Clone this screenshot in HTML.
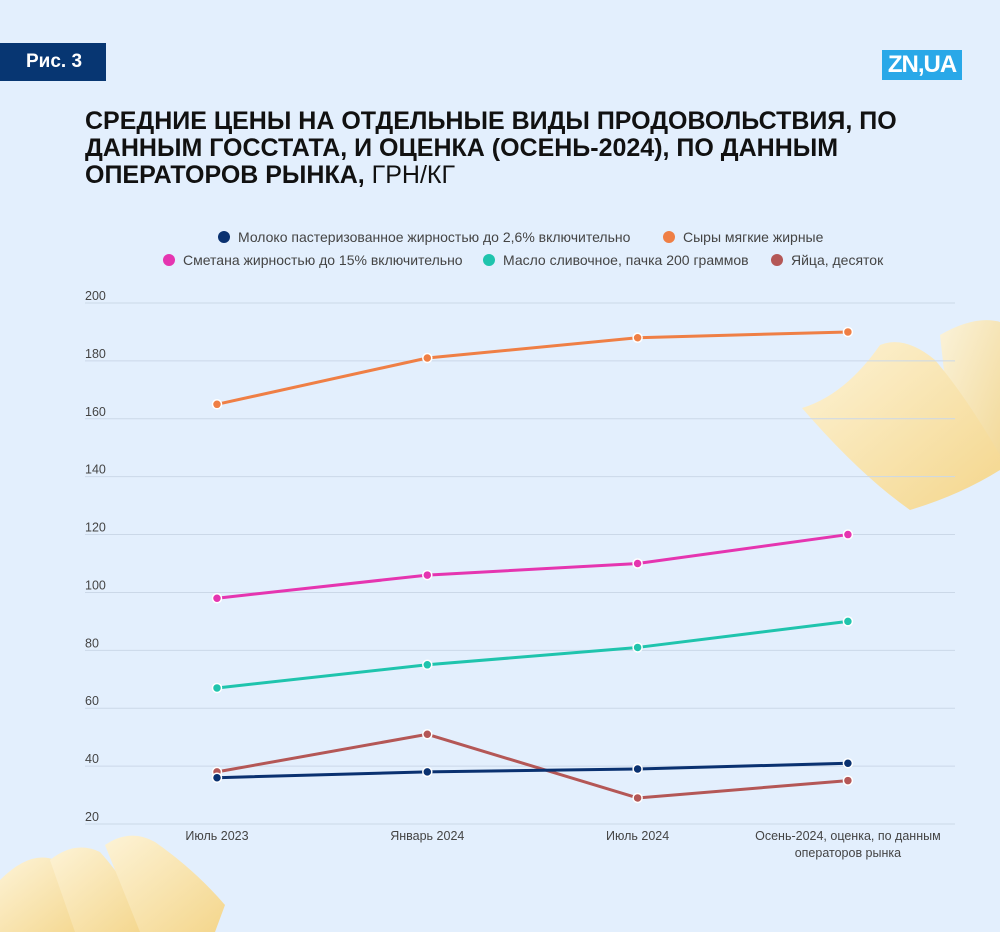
<!DOCTYPE html>
<html><head><meta charset="utf-8"><style>
body{margin:0;width:1000px;height:932px;overflow:hidden;background:#e3effd;font-family:"Liberation Sans",sans-serif;position:relative}
.badge{position:absolute;left:0;top:43px;width:106px;height:38px;background:#073672;color:#fff;font-weight:bold;font-size:19px;line-height:38px;text-align:left;padding-left:26px;box-sizing:border-box}
.logo{position:absolute;left:882px;top:50px;width:80px;height:30px;background:#29a8e8;color:#fff;font-weight:bold;font-size:24px;line-height:30px;text-align:center;letter-spacing:-1px}
h1{position:absolute;left:85px;top:108px;margin:0;font-size:25px;line-height:27px;font-weight:bold;color:#111;width:900px;white-space:nowrap}
h1 span{font-weight:normal}
.legend{position:absolute;font-size:14px;color:#444;white-space:nowrap}
.dot{display:inline-block;width:12px;height:12px;border-radius:50%;vertical-align:-1px;margin-right:8px}
</style></head><body>
<div class="badge">Рис. 3</div>
<div class="logo">ZN,UA</div>
<h1>СРЕДНИЕ ЦЕНЫ НА ОТДЕЛЬНЫЕ ВИДЫ ПРОДОВОЛЬСТВИЯ, ПО<br>ДАННЫМ ГОССТАТА, И ОЦЕНКА (ОСЕНЬ-2024), ПО ДАННЫМ<br>ОПЕРАТОРОВ РЫНКА, <span>ГРН/КГ</span></h1>
<div class="legend" style="left:218px;top:229px"><span class="dot" style="background:#0a3170"></span>Молоко пастеризованное жирностью до 2,6% включительно</div>
<div class="legend" style="left:663px;top:229px"><span class="dot" style="background:#ef7f45"></span>Сыры мягкие жирные</div>
<div class="legend" style="left:163px;top:252px"><span class="dot" style="background:#e535b0"></span>Сметана жирностью до 15% включительно</div>
<div class="legend" style="left:483px;top:252px"><span class="dot" style="background:#1fc4ad"></span>Масло сливочное, пачка 200 граммов</div>
<div class="legend" style="left:771px;top:252px"><span class="dot" style="background:#b45756"></span>Яйца, десяток</div>
<svg id="chart" width="1000" height="932" style="position:absolute;left:0;top:0">
<defs><linearGradient id="ch" x1="0" y1="0" x2="1" y2="1"><stop offset="0" stop-color="#fdf3d6"/><stop offset="1" stop-color="#f4d68c"/></linearGradient></defs>
<g>
<path d="M940 335 Q975 315 1000 322 L1000 470 Q975 480 955 470 Z" fill="url(#ch)" opacity="0.9"/>
<path d="M802 408 Q845 395 880 345 Q905 335 935 360 Q965 395 1000 455 L1000 470 Q960 495 910 510 Q860 475 802 408 Z" fill="url(#ch)"/>
</g>
<g>
<path d="M0 880 Q30 850 55 860 Q80 890 95 932 L0 932 Z" fill="url(#ch)"/>
<path d="M50 860 Q75 840 100 852 Q130 885 150 932 L75 932 Z" fill="url(#ch)"/>
<path d="M105 845 Q130 828 155 842 Q195 870 225 905 L215 932 L140 932 Z" fill="url(#ch)"/>
</g>
</svg>
<script>
const categories=["Июль 2023","Январь 2024","Июль 2024","Осень-2024, оценка, по данным|операторов рынка"];
const yTicks=[20,40,60,80,100,120,140,160,180,200];
const milk=[36,38,39,41];
const cheese=[165,181,188,190];
const sourCream=[98,106,110,120];
const butter=[67,75,81,90];
const eggs=[38,51,29,35];
const series=[["milk",milk,"#0a3170"],["cheese",cheese,"#ef7f45"],["sour-cream",sourCream,"#e535b0"],["butter",butter,"#1fc4ad"],["eggs",eggs,"#b45756"]];
const svg=document.getElementById('chart');const NS="http://www.w3.org/2000/svg";
const y=v=>303+(200-v)*(521/180);
const x=i=>217+i*210.3;
function mk(t,a){const e=document.createElementNS(NS,t);for(const k in a)e.setAttribute(k,a[k]);svg.appendChild(e);return e;}
yTicks.forEach(t=>{
 const l=mk('line',{x1:85,x2:955,y1:y(t),y2:y(t),stroke:'#cbd8e8','stroke-width':1});
 
 
 const tx=mk('text',{x:85,y:y(t)-3,'font-size':12.5,fill:'#444','font-family':'Liberation Sans'});tx.textContent=t;
 
 
});
categories.forEach((c,i)=>{
 c.split('|').forEach((s,j)=>{
  const tx=mk('text',{x:x(i),y:840+j*17,'font-size':12.5,fill:'#444','text-anchor':'middle','font-family':'Liberation Sans'});tx.textContent=s;
  
  
 });
});
const order=[4,0,3,2,1];
order.forEach(k=>{const [n,d,c]=series[k];
 const p=mk('polyline',{points:d.map((v,i)=>x(i)+','+y(v)).join(' '),fill:'none',stroke:c,'stroke-width':3});
 
 
 d.forEach((v,i)=>{const ci=mk('circle',{cx:x(i),cy:y(v),r:4.5,fill:c,stroke:'#fff','stroke-width':1.5});
  
  });
});
</script>
</body></html>
